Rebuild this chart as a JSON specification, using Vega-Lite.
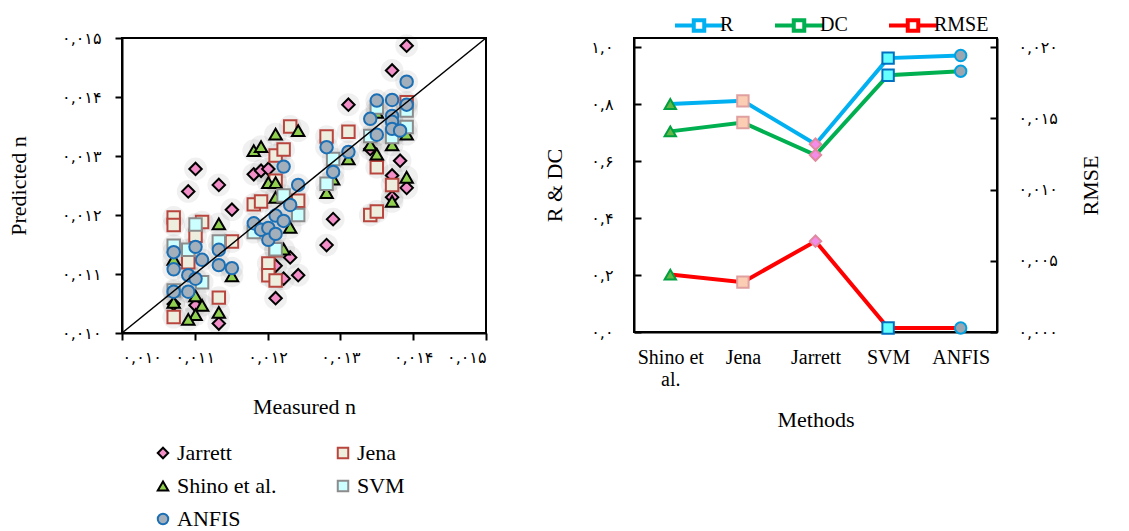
{
  "$schema": "https://vega.github.io/schema/vega-lite/v6.json",
  "background": "white",
  "padding": {"left": 6, "top": 8, "right": 0, "bottom": 0},
  "config": {
    "font": "Liberation Serif",
    "view": {"stroke": "black", "strokeWidth": 2},
    "axis": {"grid": false, "domainColor": "black", "domainWidth": 2, "tickColor": "black", "tickWidth": 2, "labelColor": "black", "titleColor": "black", "titleFontWeight": "normal", "labelFont": "DejaVu Sans", "titleFont": "Liberation Serif"},
    "legend": {"labelFont": "Liberation Serif", "labelColor": "black"}
  },
  "datasets": {
    "scatter": [
      {"Method": "Jarrett", "Measured": 0.01391, "Predicted": 0.01487},
      {"Method": "Jarrett", "Measured": 0.01371, "Predicted": 0.01445},
      {"Method": "Jarrett", "Measured": 0.01311, "Predicted": 0.01387},
      {"Method": "Jarrett", "Measured": 0.01101, "Predicted": 0.01278},
      {"Method": "Jarrett", "Measured": 0.01091, "Predicted": 0.0124},
      {"Method": "Jarrett", "Measured": 0.01133, "Predicted": 0.01251},
      {"Method": "Jarrett", "Measured": 0.01151, "Predicted": 0.01209},
      {"Method": "Jarrett", "Measured": 0.01181, "Predicted": 0.01269},
      {"Method": "Jarrett", "Measured": 0.01191, "Predicted": 0.01275},
      {"Method": "Jarrett", "Measured": 0.01201, "Predicted": 0.01278},
      {"Method": "Jarrett", "Measured": 0.01341, "Predicted": 0.01312},
      {"Method": "Jarrett", "Measured": 0.01382, "Predicted": 0.01292},
      {"Method": "Jarrett", "Measured": 0.01371, "Predicted": 0.01267},
      {"Method": "Jarrett", "Measured": 0.01391, "Predicted": 0.01246},
      {"Method": "Jarrett", "Measured": 0.01371, "Predicted": 0.0123},
      {"Method": "Jarrett", "Measured": 0.0129, "Predicted": 0.01193},
      {"Method": "Jarrett", "Measured": 0.01281, "Predicted": 0.01149},
      {"Method": "Jarrett", "Measured": 0.01211, "Predicted": 0.01059},
      {"Method": "Jarrett", "Measured": 0.01222, "Predicted": 0.01092},
      {"Method": "Jarrett", "Measured": 0.01231, "Predicted": 0.01128},
      {"Method": "Jarrett", "Measured": 0.01242, "Predicted": 0.01098},
      {"Method": "Jarrett", "Measured": 0.01211, "Predicted": 0.01114},
      {"Method": "Jarrett", "Measured": 0.01133, "Predicted": 0.01016},
      {"Method": "Jarrett", "Measured": 0.01101, "Predicted": 0.01047},
      {"Method": "Jarrett", "Measured": 0.01071, "Predicted": 0.01049},
      {"Method": "Jena", "Measured": 0.01071, "Predicted": 0.01196},
      {"Method": "Jena", "Measured": 0.01071, "Predicted": 0.01183},
      {"Method": "Jena", "Measured": 0.0111, "Predicted": 0.01188},
      {"Method": "Jena", "Measured": 0.01101, "Predicted": 0.01165},
      {"Method": "Jena", "Measured": 0.01091, "Predicted": 0.0112},
      {"Method": "Jena", "Measured": 0.01151, "Predicted": 0.01155},
      {"Method": "Jena", "Measured": 0.01133, "Predicted": 0.0106},
      {"Method": "Jena", "Measured": 0.01071, "Predicted": 0.01027},
      {"Method": "Jena", "Measured": 0.01181, "Predicted": 0.01218},
      {"Method": "Jena", "Measured": 0.01191, "Predicted": 0.01223},
      {"Method": "Jena", "Measured": 0.01211, "Predicted": 0.01301},
      {"Method": "Jena", "Measured": 0.01222, "Predicted": 0.01311},
      {"Method": "Jena", "Measured": 0.01231, "Predicted": 0.0135},
      {"Method": "Jena", "Measured": 0.01242, "Predicted": 0.01224},
      {"Method": "Jena", "Measured": 0.01211, "Predicted": 0.01258},
      {"Method": "Jena", "Measured": 0.01201, "Predicted": 0.01118},
      {"Method": "Jena", "Measured": 0.01201, "Predicted": 0.01098},
      {"Method": "Jena", "Measured": 0.01211, "Predicted": 0.01089},
      {"Method": "Jena", "Measured": 0.01211, "Predicted": 0.0114},
      {"Method": "Jena", "Measured": 0.01281, "Predicted": 0.01333},
      {"Method": "Jena", "Measured": 0.01311, "Predicted": 0.01341},
      {"Method": "Jena", "Measured": 0.0135, "Predicted": 0.01281},
      {"Method": "Jena", "Measured": 0.01371, "Predicted": 0.01251},
      {"Method": "Jena", "Measured": 0.01341, "Predicted": 0.012},
      {"Method": "Jena", "Measured": 0.0135, "Predicted": 0.01206},
      {"Method": "Jena", "Measured": 0.01391, "Predicted": 0.01391},
      {"Method": "Shino et al.", "Measured": 0.01211, "Predicted": 0.01337},
      {"Method": "Shino et al.", "Measured": 0.01242, "Predicted": 0.01343},
      {"Method": "Shino et al.", "Measured": 0.01181, "Predicted": 0.01309},
      {"Method": "Shino et al.", "Measured": 0.01191, "Predicted": 0.01316},
      {"Method": "Shino et al.", "Measured": 0.01201, "Predicted": 0.01255},
      {"Method": "Shino et al.", "Measured": 0.01211, "Predicted": 0.01255},
      {"Method": "Shino et al.", "Measured": 0.01211, "Predicted": 0.0123},
      {"Method": "Shino et al.", "Measured": 0.01231, "Predicted": 0.01179},
      {"Method": "Shino et al.", "Measured": 0.01222, "Predicted": 0.01142},
      {"Method": "Shino et al.", "Measured": 0.01133, "Predicted": 0.01185},
      {"Method": "Shino et al.", "Measured": 0.01151, "Predicted": 0.01097},
      {"Method": "Shino et al.", "Measured": 0.01071, "Predicted": 0.01125},
      {"Method": "Shino et al.", "Measured": 0.01101, "Predicted": 0.01063},
      {"Method": "Shino et al.", "Measured": 0.0111, "Predicted": 0.01047},
      {"Method": "Shino et al.", "Measured": 0.01101, "Predicted": 0.01031},
      {"Method": "Shino et al.", "Measured": 0.01091, "Predicted": 0.01023},
      {"Method": "Shino et al.", "Measured": 0.01133, "Predicted": 0.01035},
      {"Method": "Shino et al.", "Measured": 0.01281, "Predicted": 0.01238},
      {"Method": "Shino et al.", "Measured": 0.0129, "Predicted": 0.01261},
      {"Method": "Shino et al.", "Measured": 0.01311, "Predicted": 0.01295},
      {"Method": "Shino et al.", "Measured": 0.01341, "Predicted": 0.01319},
      {"Method": "Shino et al.", "Measured": 0.0135, "Predicted": 0.01303},
      {"Method": "Shino et al.", "Measured": 0.01371, "Predicted": 0.01319},
      {"Method": "Shino et al.", "Measured": 0.01391, "Predicted": 0.01264},
      {"Method": "Shino et al.", "Measured": 0.01371, "Predicted": 0.01223},
      {"Method": "Shino et al.", "Measured": 0.01391, "Predicted": 0.01337},
      {"Method": "Shino et al.", "Measured": 0.0135, "Predicted": 0.01374},
      {"Method": "Shino et al.", "Measured": 0.01071, "Predicted": 0.01052},
      {"Method": "SVM", "Measured": 0.01071, "Predicted": 0.01148},
      {"Method": "SVM", "Measured": 0.01091, "Predicted": 0.01141},
      {"Method": "SVM", "Measured": 0.01101, "Predicted": 0.01184},
      {"Method": "SVM", "Measured": 0.01133, "Predicted": 0.01155},
      {"Method": "SVM", "Measured": 0.0111, "Predicted": 0.01086},
      {"Method": "SVM", "Measured": 0.01181, "Predicted": 0.01171},
      {"Method": "SVM", "Measured": 0.01222, "Predicted": 0.01233},
      {"Method": "SVM", "Measured": 0.01242, "Predicted": 0.012},
      {"Method": "SVM", "Measured": 0.01211, "Predicted": 0.01142},
      {"Method": "SVM", "Measured": 0.01281, "Predicted": 0.01253},
      {"Method": "SVM", "Measured": 0.0129, "Predicted": 0.01295},
      {"Method": "SVM", "Measured": 0.01341, "Predicted": 0.01334},
      {"Method": "SVM", "Measured": 0.0135, "Predicted": 0.01382},
      {"Method": "SVM", "Measured": 0.01371, "Predicted": 0.01332},
      {"Method": "SVM", "Measured": 0.01391, "Predicted": 0.01377},
      {"Method": "SVM", "Measured": 0.01391, "Predicted": 0.01349},
      {"Method": "SVM", "Measured": 0.01071, "Predicted": 0.01072},
      {"Method": "ANFIS", "Measured": 0.01071, "Predicted": 0.01137},
      {"Method": "ANFIS", "Measured": 0.01071, "Predicted": 0.01108},
      {"Method": "ANFIS", "Measured": 0.01071, "Predicted": 0.0107},
      {"Method": "ANFIS", "Measured": 0.01091, "Predicted": 0.01098},
      {"Method": "ANFIS", "Measured": 0.01091, "Predicted": 0.0107},
      {"Method": "ANFIS", "Measured": 0.01101, "Predicted": 0.01146},
      {"Method": "ANFIS", "Measured": 0.01101, "Predicted": 0.01092},
      {"Method": "ANFIS", "Measured": 0.0111, "Predicted": 0.01124},
      {"Method": "ANFIS", "Measured": 0.01133, "Predicted": 0.01141},
      {"Method": "ANFIS", "Measured": 0.01133, "Predicted": 0.01115},
      {"Method": "ANFIS", "Measured": 0.01151, "Predicted": 0.0111},
      {"Method": "ANFIS", "Measured": 0.01181, "Predicted": 0.01186},
      {"Method": "ANFIS", "Measured": 0.01191, "Predicted": 0.01175},
      {"Method": "ANFIS", "Measured": 0.01201, "Predicted": 0.01178},
      {"Method": "ANFIS", "Measured": 0.01201, "Predicted": 0.01158},
      {"Method": "ANFIS", "Measured": 0.01211, "Predicted": 0.01199},
      {"Method": "ANFIS", "Measured": 0.01211, "Predicted": 0.01168},
      {"Method": "ANFIS", "Measured": 0.01222, "Predicted": 0.0119},
      {"Method": "ANFIS", "Measured": 0.01222, "Predicted": 0.01282},
      {"Method": "ANFIS", "Measured": 0.01231, "Predicted": 0.01217},
      {"Method": "ANFIS", "Measured": 0.01242, "Predicted": 0.01251},
      {"Method": "ANFIS", "Measured": 0.01281, "Predicted": 0.01315},
      {"Method": "ANFIS", "Measured": 0.0129, "Predicted": 0.01273},
      {"Method": "ANFIS", "Measured": 0.01311, "Predicted": 0.01307},
      {"Method": "ANFIS", "Measured": 0.01341, "Predicted": 0.01363},
      {"Method": "ANFIS", "Measured": 0.0135, "Predicted": 0.01394},
      {"Method": "ANFIS", "Measured": 0.0135, "Predicted": 0.01336},
      {"Method": "ANFIS", "Measured": 0.01371, "Predicted": 0.01395},
      {"Method": "ANFIS", "Measured": 0.01371, "Predicted": 0.01368},
      {"Method": "ANFIS", "Measured": 0.01371, "Predicted": 0.01358},
      {"Method": "ANFIS", "Measured": 0.01371, "Predicted": 0.01346},
      {"Method": "ANFIS", "Measured": 0.01382, "Predicted": 0.01343},
      {"Method": "ANFIS", "Measured": 0.01391, "Predicted": 0.01426},
      {"Method": "ANFIS", "Measured": 0.01391, "Predicted": 0.01387}
    ],
    "diag": [{"v": 0.01}, {"v": 0.015}],
    "perf": [
      {"Method": "Shino et al.", "Metric": "R", "Value": 0.8},
      {"Method": "Jena", "Metric": "R", "Value": 0.811},
      {"Method": "Jarrett", "Metric": "R", "Value": 0.659},
      {"Method": "SVM", "Metric": "R", "Value": 0.961},
      {"Method": "ANFIS", "Metric": "R", "Value": 0.97},
      {"Method": "Shino et al.", "Metric": "DC", "Value": 0.704},
      {"Method": "Jena", "Metric": "DC", "Value": 0.735},
      {"Method": "Jarrett", "Metric": "DC", "Value": 0.621},
      {"Method": "SVM", "Metric": "DC", "Value": 0.901},
      {"Method": "ANFIS", "Metric": "DC", "Value": 0.915},
      {"Method": "Shino et al.", "Metric": "RMSE", "Value": 0.00403},
      {"Method": "Jena", "Metric": "RMSE", "Value": 0.0035},
      {"Method": "Jarrett", "Metric": "RMSE", "Value": 0.00637},
      {"Method": "SVM", "Metric": "RMSE", "Value": 0.00028},
      {"Method": "ANFIS", "Metric": "RMSE", "Value": 0.00028}
    ]
  },
  "resolve": {"scale": {"color": "independent", "shape": "independent", "fill": "independent", "stroke": "independent", "x": "independent", "y": "independent"}},
  "spacing": 52,
  "hconcat": [
    {
      "vconcat": [
        {
          "width": 364,
          "height": 295,
          "title": {"text": " ", "fontSize": 11, "offset": 0},
          "layer": [
            {
              "data": {"name": "scatter"},
              "mark": {"type": "point", "filled": true, "size": 520, "opacity": 0.07, "color": "#303030", "strokeWidth": 0},
              "encoding": {
                "x": {"field": "Measured", "type": "quantitative", "title": "Measured n"},
                "y": {"field": "Predicted", "type": "quantitative", "title": "Predicted n"}
              }
            },
            {
              "data": {"name": "scatter"},
              "mark": {"type": "point", "filled": true, "size": 155, "strokeWidth": 2, "opacity": 1},
              "encoding": {
                "x": {"field": "Measured", "type": "quantitative", "title": "Measured n",
                  "scale": {"domain": [0.01, 0.015], "nice": false, "zero": false},
                  "axis": {"values": [0.01, 0.011, 0.012, 0.013, 0.014, 0.015], "tickSize": 7, "labelPadding": 9, "labelFontSize": 16, "titleFontSize": 22, "titlePadding": 31,
                    "labelExpr": "replace(replace(replace(replace(replace(replace(replace(replace(replace(replace(replace(format(datum.value,'.3f'),'.',','),regexp('0','g'),'۰'),regexp('1','g'),'۱'),regexp('2','g'),'۲'),regexp('3','g'),'۳'),regexp('4','g'),'۴'),regexp('5','g'),'۵'),regexp('6','g'),'۶'),regexp('7','g'),'۷'),regexp('8','g'),'۸'),regexp('9','g'),'۹')"}},
                "y": {"field": "Predicted", "type": "quantitative", "title": "Predicted n",
                  "scale": {"domain": [0.01, 0.015], "nice": false, "zero": false},
                  "axis": {"values": [0.01, 0.011, 0.012, 0.013, 0.014, 0.015], "tickSize": 7, "labelPadding": 14, "labelFontSize": 16, "titleFontSize": 22, "titlePadding": 31,
                    "labelExpr": "replace(replace(replace(replace(replace(replace(replace(replace(replace(replace(replace(format(datum.value,'.3f'),'.',','),regexp('0','g'),'۰'),regexp('1','g'),'۱'),regexp('2','g'),'۲'),regexp('3','g'),'۳'),regexp('4','g'),'۴'),regexp('5','g'),'۵'),regexp('6','g'),'۶'),regexp('7','g'),'۷'),regexp('8','g'),'۸'),regexp('9','g'),'۹')"}},
                "shape": {"field": "Method", "type": "nominal",
                  "scale": {"domain": ["Jarrett", "Shino et al.", "ANFIS", "Jena", "SVM"], "range": ["diamond", "triangle-up", "circle", "square", "square"]},
                  "legend": {"orient": "none", "legendX": 30, "legendY": 404, "columns": 2, "title": null, "labelFontSize": 22, "symbolSize": 110, "symbolStrokeWidth": 2, "rowPadding": 11, "columnPadding": 55, "labelOffset": 3}},
                "fill": {"field": "Method", "type": "nominal",
                  "scale": {"domain": ["Jarrett", "Shino et al.", "ANFIS", "Jena", "SVM"], "range": ["#f28fc8", "#92d050", "#a3afba", "#eeeedf", "#ccffff"]},
                  "legend": {"orient": "none", "legendX": 30, "legendY": 404, "columns": 2, "title": null, "labelFontSize": 22, "symbolSize": 110, "symbolStrokeWidth": 2, "rowPadding": 11, "columnPadding": 55, "labelOffset": 3}},
                "stroke": {"field": "Method", "type": "nominal",
                  "scale": {"domain": ["Jarrett", "Shino et al.", "ANFIS", "Jena", "SVM"], "range": ["#000000", "#000000", "#1b6fb5", "#b8463f", "#8c8c8c"]},
                  "legend": {"orient": "none", "legendX": 30, "legendY": 404, "columns": 2, "title": null, "labelFontSize": 22, "symbolSize": 110, "symbolStrokeWidth": 2, "rowPadding": 11, "columnPadding": 55, "labelOffset": 3}}
              }
            },
            {
              "data": {"name": "diag"},
              "mark": {"type": "line", "color": "black", "strokeWidth": 1.5},
              "encoding": {
                "x": {"field": "v", "type": "quantitative", "title": "Measured n"},
                "y": {"field": "v", "type": "quantitative", "title": "Predicted n"}
              }
            }
          ]
        }
      ]
    },
    {
      "vconcat": [
        {
          "width": 363,
          "height": 294,
          "data": {"name": "perf"},
          "resolve": {"scale": {"y": "independent"}},
          "layer": [
            {
              "transform": [{"filter": "datum.Metric != 'RMSE'"}],
              "encoding": {
                "x": {"field": "Method", "type": "ordinal", "title": "Methods",
                  "scale": {"type": "point", "padding": 0.5, "domain": ["Shino et al.", "Jena", "Jarrett", "SVM", "ANFIS"]},
                  "axis": {"labelAngle": 0, "ticks": false, "labelPadding": 15, "labelFontSize": 20, "labelFont": "Liberation Serif", "titleFontSize": 22, "titlePadding": 20,
                    "labelExpr": "datum.label == 'Shino et al.' ? ['Shino et', 'al.'] : datum.label"}},
                "y": {"field": "Value", "type": "quantitative", "title": "R & DC",
                  "scale": {"domain": [0, 1.0316], "nice": false},
                  "axis": {"orient": "left", "values": [0, 0.2, 0.4, 0.6, 0.8, 1], "tickSize": -7, "labelPadding": 28, "labelFontSize": 16, "titleFontSize": 22, "titlePadding": 24,
                    "labelExpr": "replace(replace(replace(replace(replace(replace(replace(replace(replace(replace(replace(format(datum.value,'.1f'),'.',','),regexp('0','g'),'۰'),regexp('1','g'),'۱'),regexp('2','g'),'۲'),regexp('3','g'),'۳'),regexp('4','g'),'۴'),regexp('5','g'),'۵'),regexp('6','g'),'۶'),regexp('7','g'),'۷'),regexp('8','g'),'۸'),regexp('9','g'),'۹')"}}
              },
              "layer": [
                {"mark": {"type": "line", "strokeWidth": 4},
                 "encoding": {"color": {"field": "Metric", "type": "nominal",
                   "scale": {"domain": ["R", "DC", "RMSE"], "range": ["#00b0f0", "#00b050", "#ff0000"]},
                   "legend": {"orient": "none", "legendX": 48, "legendY": -30, "direction": "horizontal", "title": null, "labelFontSize": 20,
                     "symbolType": "M-1.6,0H-0.35M0.35,0H1.6M-0.35,-0.35H0.35V0.35H-0.35Z", "symbolSize": 900, "symbolStrokeWidth": 4, "columnPadding": 33, "labelOffset": 4}}}},
                {"mark": {"type": "point", "filled": true, "size": 130, "strokeWidth": 2, "opacity": 1},
                 "encoding": {
                   "shape": {"field": "Method", "type": "nominal", "legend": null,
                     "scale": {"domain": ["Shino et al.", "Jena", "Jarrett", "SVM", "ANFIS"], "range": ["triangle-up", "square", "diamond", "square", "circle"]}},
                   "fill": {"field": "Method", "type": "nominal", "legend": null,
                     "scale": {"domain": ["Shino et al.", "Jena", "Jarrett", "SVM", "ANFIS"], "range": ["#62b746", "#fbcdb3", "#f28ce8", "#66ffff", "#9aa6b0"]}},
                   "stroke": {"field": "Method", "type": "nominal", "legend": null,
                     "scale": {"domain": ["Shino et al.", "Jena", "Jarrett", "SVM", "ANFIS"], "range": ["#00a040", "#e0a0a0", "#e08aa0", "#0070c0", "#00a0e0"]}}
                 }}
              ]
            },
            {
              "transform": [{"filter": "datum.Metric == 'RMSE'"}],
              "encoding": {
                "x": {"field": "Method", "type": "ordinal", "title": "Methods"},
                "y": {"field": "Value", "type": "quantitative", "title": "RMSE",
                  "scale": {"domain": [0, 0.020632], "nice": false},
                  "axis": {"orient": "right", "values": [0, 0.005, 0.01, 0.015, 0.02], "tickSize": -7, "labelPadding": 28, "labelFontSize": 16, "titleFontSize": 22, "titlePadding": 45, "titleAngle": 270,
                    "labelExpr": "replace(replace(replace(replace(replace(replace(replace(replace(replace(replace(replace(format(datum.value,'.3f'),'.',','),regexp('0','g'),'۰'),regexp('1','g'),'۱'),regexp('2','g'),'۲'),regexp('3','g'),'۳'),regexp('4','g'),'۴'),regexp('5','g'),'۵'),regexp('6','g'),'۶'),regexp('7','g'),'۷'),regexp('8','g'),'۸'),regexp('9','g'),'۹')"}}
              },
              "layer": [
                {"mark": {"type": "line", "strokeWidth": 4},
                 "encoding": {"color": {"field": "Metric", "type": "nominal"}}},
                {"mark": {"type": "point", "filled": true, "size": 130, "strokeWidth": 2, "opacity": 1},
                 "encoding": {
                   "shape": {"field": "Method", "type": "nominal", "legend": null},
                   "fill": {"field": "Method", "type": "nominal", "legend": null},
                   "stroke": {"field": "Method", "type": "nominal", "legend": null}
                 }}
              ]
            }
          ]
        }
      ]
    }
  ]
}
